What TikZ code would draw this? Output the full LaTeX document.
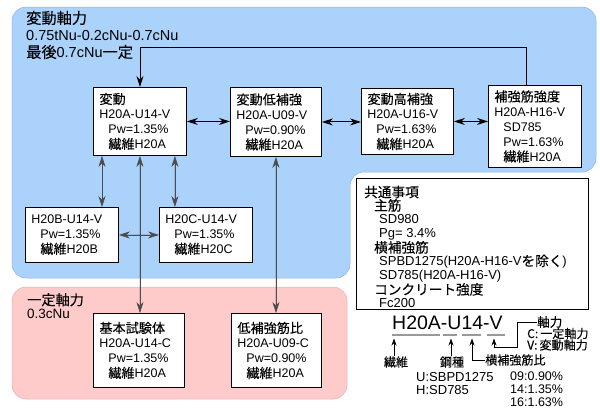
\documentclass[tikz,border=0pt]{standalone}
\usepackage{fontspec}
\setmainfont{Liberation Sans}
\newfontfamily\jp{Noto Sans CJK JP}[Scale=1.05,FakeBold=0.15]
\usetikzlibrary{arrows.meta}
\definecolor{bluebg}{RGB}{170,210,250}
\definecolor{blueedge}{RGB}{140,180,225}
\definecolor{pinkbg}{RGB}{255,202,202}
\definecolor{pinkedge}{RGB}{235,175,175}
\newcommand\ind{\hspace*{9pt}}
\tikzset{
  box/.style={draw=black, line width=0.9pt, fill=white, anchor=north west, align=left,
    inner xsep=6pt, inner ysep=0pt, font=\fontsize{12.5}{15}\selectfont},
  dbl/.style={{Stealth[length=11pt,width=7pt]}-{Stealth[length=11pt,width=7pt]}, line width=1pt},
  vdbl/.style={{Stealth[length=11pt,width=7pt]}-{Stealth[length=11pt,width=7pt]}, line width=0.6pt, draw=black!70, fill=black},
  arr/.style={-{Stealth[length=11pt,width=7pt]}, line width=0.9pt},
  sarr/.style={-{Stealth[length=7pt,width=5pt]}, line width=0.7pt},
  lbl/.style={anchor=west, inner sep=0pt, align=left},
}
\begin{document}
\begin{tikzpicture}[x=1pt,y=-1pt]
\useasboundingbox (0,0) rectangle (600,410);
% regions
\filldraw[fill=bluebg, draw=blueedge, line width=0.5pt, rounded corners=14pt]
  (12,7) -- (596,7) -- (596,172) -- (350,172) -- (350,278) -- (12,278) -- cycle;
\filldraw[fill=pinkbg, draw=pinkedge, line width=0.5pt, rounded corners=14pt]
  (12,287) rectangle (347,399);
% region labels
\node[lbl, font=\fontsize{14.5}{17}\selectfont] (vlab) at (26,35)
  {{\jp 変動軸力}\\0.75tNu-0.2cNu-0.7cNu\\{\jp 最後}0.7cNu{\jp 一定}};
\node[lbl, font=\fontsize{13.5}{13.5}\selectfont] (clab) at (27,306)
  {{\jp 一定軸力}\\0.3cNu};
% boxes
\node[box, text width=81pt, minimum height=68pt] (v1) at (93,87)
  {{\jp 変動}\\H20A-U14-V\\\ind Pw=1.35\%\\\ind{\jp 繊維}H20A};
\node[box, text width=79pt, minimum height=69pt] (v2) at (230,87)
  {{\jp 変動低補強}\\H20A-U09-V\\\ind Pw=0.90\%\\\ind{\jp 繊維}H20A};
\node[box, text width=80pt, minimum height=66pt] (v3) at (361,88)
  {{\jp 変動高補強}\\H20A-U16-V\\\ind Pw=1.63\%\\\ind{\jp 繊維}H20A};
\node[box, text width=81pt, minimum height=82pt] (v4) at (488,85)
  {{\jp 補強筋強度}\\H20A-H16-V\\\ind SD785\\\ind Pw=1.63\%\\\ind{\jp 繊維}H20A};
\node[box, text width=81pt, minimum height=55pt] (b) at (25,207)
  {H20B-U14-V\\\ind Pw=1.35\%\\\ind{\jp 繊維}H20B};
\node[box, text width=81pt, minimum height=55pt] (c) at (159,207)
  {H20C-U14-V\\\ind Pw=1.35\%\\\ind{\jp 繊維}H20C};
\node[box, text width=79pt, minimum height=74pt] (k) at (93,313)
  {{\jp 基本試験体}\\H20A-U14-C\\\ind Pw=1.35\%\\\ind{\jp 繊維}H20A};
\node[box, text width=78pt, minimum height=74pt] (l) at (231,313)
  {{\jp 低補強筋比}\\H20A-U09-C\\\ind Pw=0.90\%\\\ind{\jp 繊維}H20A};
% common box
\node[draw=black, line width=0.9pt, fill=white, anchor=north west,
  minimum width=232pt, minimum height=131pt] (common) at (356,178) {};
\node[anchor=north west, align=left, inner sep=0pt,
  font=\fontsize{13}{13.4}\selectfont] (commontext) at (364,185.5)
  {{\jp 共通事項}\\
   \hspace*{10pt}{\jp 主筋}\\
   \hspace*{15pt}SD980\\
   \hspace*{15pt}Pg= 3.4\%\\
   \hspace*{10pt}{\jp 横補強筋}\\
   \hspace*{15pt}SPBD1275(H20A-H16-V{\jp を除く})\\
   \hspace*{15pt}SD785(H20A-H16-V)\\
   \hspace*{10pt}{\jp コンクリート強度}\\
   \hspace*{15pt}Fc200};
% connectors
\coordinate (fb) at (0,47);
\draw[arr] ([xshift=-8.5pt]v4.north) |- (v1.north |- fb) -- (v1.north);
\draw[dbl] (v1.east) -- (v1.east -| v2.west);
\draw[dbl] (v2.east) -- (v2.east -| v3.west);
\draw[dbl] (v3.east) -- (v3.east -| v4.west);
\draw[vdbl] ([xshift=9pt]v1.south west) -- ([xshift=9pt]v1.south west |- b.north);
\draw[vdbl] ([xshift=-12pt]v1.south east) -- ([xshift=-12pt]v1.south east |- c.north);
\draw[vdbl] (v1.south) -- (v1.south |- k.north);
\draw[vdbl] (v2.south) -- (v2.south |- l.north);
\draw[vdbl] (b.east) -- (c.west);
% legend
\node[anchor=base west, inner sep=0pt, font=\fontsize{19.5}{20}\selectfont] (code) at (392,329) {H20A-U14-V};
\draw[black!40, line width=1.2pt] (392,335) -- (440,335) (443,335) -- (457,335)
  (462,335) -- (481,335) (487,335) -- (505,335);
\node[inner sep=0pt, font=\jp\fontsize{11.5}{12}\selectfont] (sen) at (396,362) {繊維};
\node[inner sep=0pt, font=\jp\fontsize{11.5}{12}\selectfont] (kou) at (452,362) {鋼種};
\node[lbl, font=\jp\fontsize{11.5}{12}\selectfont] (yoko) at (485,360) {横補強筋比};
\node[lbl, font=\jp\fontsize{12}{12}\selectfont] (jiku) at (537,322) {軸力};
\node[lbl, font=\jp\fontsize{11.5}{12}\selectfont] (jc) at (527,333.5) {C:\,一定軸力};
\node[lbl, font=\jp\fontsize{11.5}{12}\selectfont] (jv) at (527,345) {V:\,変動軸力};
\node[lbl, font=\fontsize{13}{13}\selectfont] (ku) at (416,377) {U:SBPD1275};
\node[lbl, font=\fontsize{13}{13}\selectfont] (kh) at (416,390) {H:SD785};
\node[lbl, font=\fontsize{12.5}{12.5}\selectfont] (p09) at (510,376) {09:0.90\%};
\node[lbl, font=\fontsize{12.5}{12.5}\selectfont] (p14) at (510,389) {14:1.35\%};
\node[lbl, font=\fontsize{12.5}{12.5}\selectfont] (p16) at (510,402) {16:1.63\%};
\coordinate (tsen) at (394,338.5);
\coordinate (tkou) at (451,338.5);
\coordinate (tyoko) at (472,338.5);
\coordinate (jbend) at (517,347);
\coordinate (tjiku) at (494,338.5);
\draw[sarr] (sen.north -| tsen) -- (tsen);
\draw[sarr] (kou.north -| tkou) -- (tkou);
\draw[sarr] (yoko.west) -| (tyoko);
\draw[sarr] (jiku.west) -| (jbend) -| (tjiku);
\end{tikzpicture}
\end{document}
